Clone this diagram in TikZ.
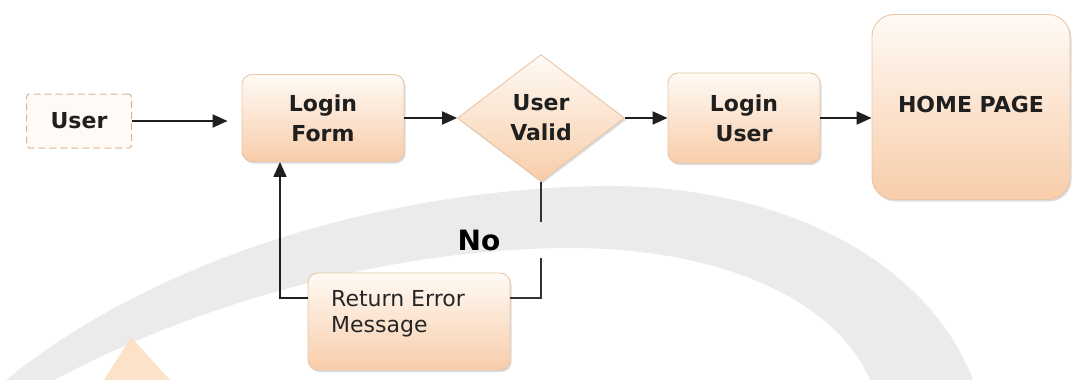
\documentclass[tikz,border=0pt]{standalone}
\usepackage{fontspec}
\setmainfont{DejaVu Sans}
\usetikzlibrary{arrows.meta,shapes.geometric,shadows,calc}
\definecolor{boxtop}{HTML}{FFFAF5}
\definecolor{boxbot}{HTML}{F8CDAA}
\definecolor{boxline}{HTML}{E9C6A6}
\definecolor{dashline}{HTML}{D9B493}
\definecolor{wmgray}{HTML}{EBEBEB}
\definecolor{wmorange}{HTML}{FBDDBE}
\begin{document}
\begin{tikzpicture}[x=1pt,y=-1pt,
  boxstyle/.style={draw=boxline, line width=0.9pt, rounded corners=10pt,
    top color=boxtop, bottom color=boxbot, inner sep=0pt, align=center,
    font=\bfseries\fontsize{22}{30}\selectfont, text=black!88,
    drop shadow={shadow xshift=1.5pt, shadow yshift=-2pt, fill=black!30, opacity=0.45}},
  userbox/.style={draw=dashline, dash pattern=on 7pt off 4pt, line width=1pt,
    rounded corners=3pt, fill=white!96!orange, inner sep=0pt, text=black!88,
    font=\bfseries\fontsize{22}{26}\selectfont},
  decision/.style={diamond, draw=boxline, line width=0.9pt, top color=boxtop,
    bottom color=boxbot, inner sep=0pt, align=center, text=black!88,
    font=\bfseries\fontsize{22}{30}\selectfont,
    drop shadow={shadow xshift=1.5pt, shadow yshift=-2pt, fill=black!30, opacity=0.45}},
  arr/.style={line width=2pt, draw=black!88, -{Triangle[length=15pt,width=13pt]}},
  thinline/.style={line width=1.6pt, draw=black!80}
]
\useasboundingbox (0,0) rectangle (1077,380);
\begin{scope}
\clip (0,0) rectangle (1077,380);
% watermark band
\fill[wmgray] (0,385) .. controls (150,260) and (380,190) .. (600,186)
  .. controls (780,184) and (930,260) .. (975,385)
  -- (872,385) .. controls (840,300) and (720,248) .. (570,248)
  .. controls (400,248) and (200,300) .. (45,385) -- cycle;
\fill[wmorange, opacity=0.85] (104,380) -- (131,337) -- (170,380) -- cycle;
\end{scope}

% nodes
\node[userbox, minimum width=105pt, minimum height=54pt] (user) at (79,121) {User};
\node[boxstyle, minimum width=162pt, minimum height=87pt] (form) at (323,118) {Login\\Form};
\node[decision, minimum width=167pt, minimum height=127pt] (valid) at (541,118) {User\\Valid};
\node[boxstyle, minimum width=152pt, minimum height=90pt] (luser) at (744,118) {Login\\User};
\node[boxstyle, minimum width=198pt, minimum height=185pt, rounded corners=22pt] (home) at (971,107) {\raisebox{5pt}{HOME PAGE}};
\node[boxstyle, minimum width=202pt, minimum height=97pt] (err) at (409,321.5) {};
\node[anchor=west, align=left, inner sep=0pt, text=black!85, font=\fontsize{22}{26}\selectfont] (errtext) at (331,314) {Return Error\\Message};
\node[font=\bfseries\fontsize{28}{30}\selectfont, inner sep=0pt] (no) at (479,240) {No};

\coordinate (c1) at (541,298);
\coordinate (c2) at (280,298);

% connectors
\draw[arr, shorten >=14pt] (user.east) -- (user.east -| form.west);
\draw[arr] (form.east) -- (valid.west);
\draw[arr] (valid.east) -- (luser.west);
\draw[arr] (luser.east) -- (luser.east -| home.west);
\draw[thinline] (valid.south) -- ($(valid.south)!0.345!(c1)$);
\draw[thinline] ($(valid.south)!0.655!(c1)$) -- (c1) -- (c1 -| err.east);
\draw[thinline, arr, line width=1.6pt] (c2 -| err.west) -- (c2) -- (c2 |- form.south);
\end{tikzpicture}
\end{document}
